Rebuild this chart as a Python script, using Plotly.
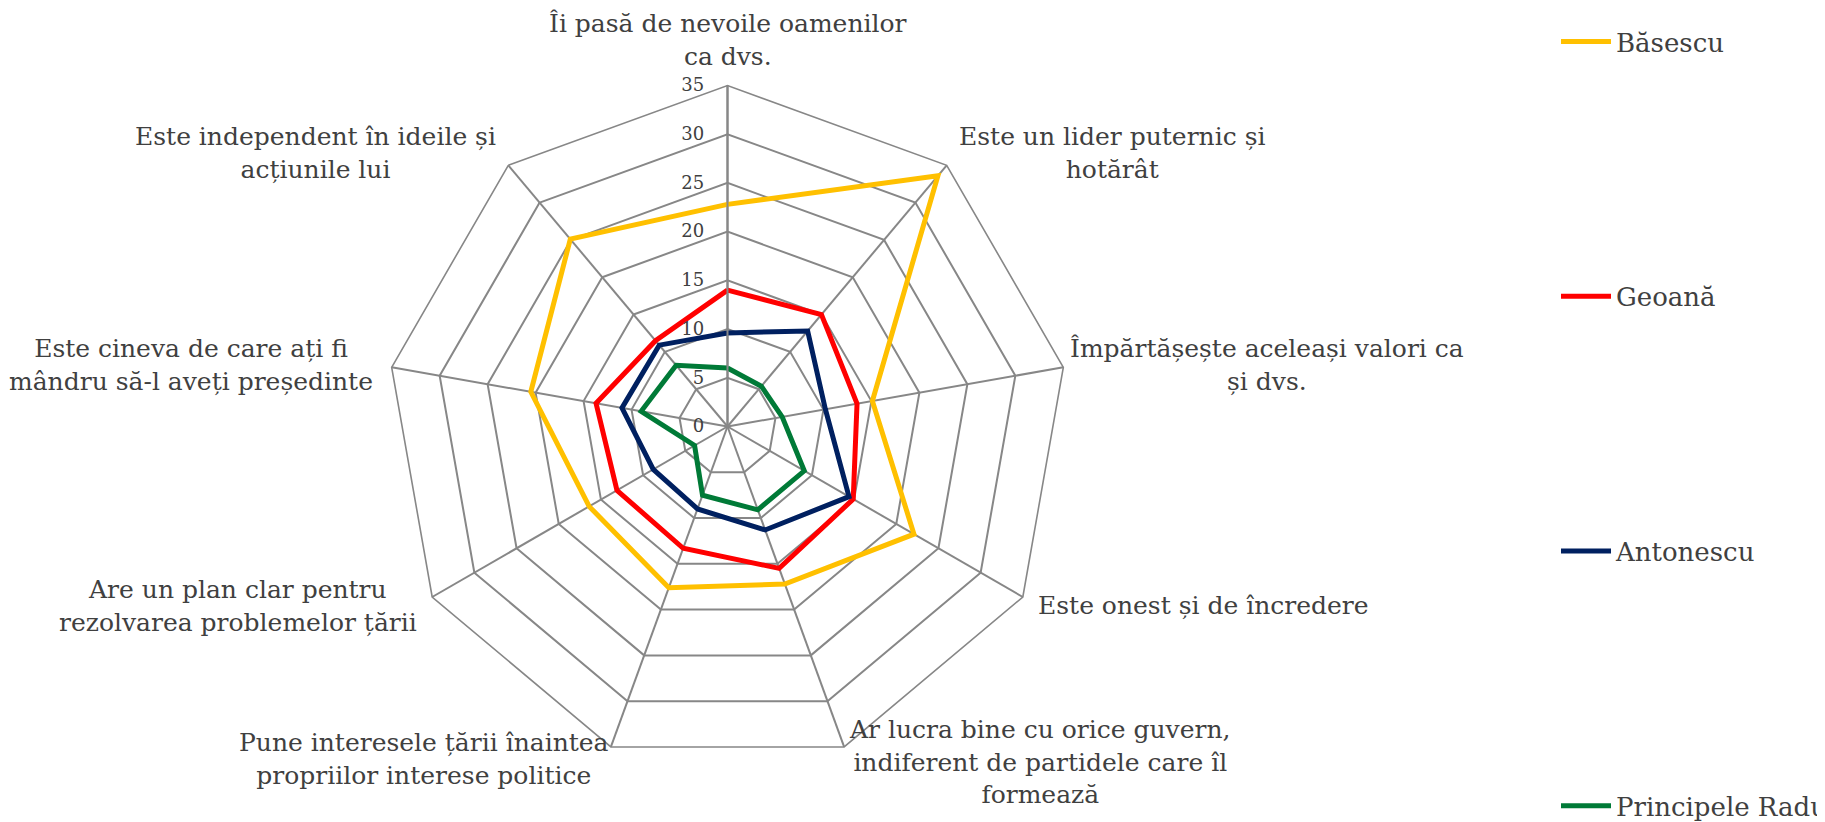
import plotly.graph_objects as go

W, H = 1825, 822

categories = [
    "Îi pasă de nevoile oamenilor<br>ca dvs.",
    "Este un lider puternic și<br>hotărât",
    "Împărtășește aceleași valori ca<br>și dvs.",
    "Este onest și de încredere",
    "Ar lucra bine cu orice guvern,<br>indiferent de partidele care îl<br>formează",
    "Pune interesele țării înaintea<br>propriilor interese politice",
    "Are un plan clar pentru<br>rezolvarea problemelor țării",
    "Este cineva de care ați fi<br>mândru să-l aveți președinte",
    "Este independent în ideile și<br>acțiunile lui",
]

series_names = ["Băsescu", "Geoană", "Antonescu", "Principele Radu"]
basescu = [22.8, 33.6, 15.1, 22.1, 17.2, 17.6, 16.4, 20.5, 25.1]
geoana = [14.0, 15.0, 13.5, 14.9, 15.5, 13.3, 13.1, 13.7, 11.5]
antonescu = [9.6, 12.8, 10.2, 14.4, 11.3, 9.0, 8.8, 11.0, 10.9]
radu = [6.0, 5.4, 5.7, 9.1, 9.1, 7.5, 3.9, 9.0, 8.2]
series_values = [basescu, geoana, antonescu, radu]
series_colors = ["#FFC000", "#FF0000", "#002060", "#007A37"]

radial_ticks = [0, 5, 10, 15, 20, 25, 30, 35]

# page offset (body margin of the html page)
OFF = 8

def px_x(x):
    return (x - OFF) / W

def px_y(y):
    return 1 - (y - OFF) / H

# label placement (pixels in the screenshot): x, y(center), xanchor
label_pos = [
    (728, 40, "center"),
    (957, 153, "left"),
    (1068, 365, "left"),
    (1036, 605, "left"),
    (847, 762, "left"),
    (611, 759, "right"),
    (419, 606, "right"),
    (375, 365, "right"),
    (498, 153, "right"),
]

FONT = "DejaVu Serif"
TXT = "#404040"
GRID = "#878787"

fig = go.Figure()
theta_ids = [str(i) for i in range(len(categories))]
for name, vals, col in zip(series_names, series_values, series_colors):
    fig.add_trace(go.Scatterpolar(
        r=vals + [vals[0]],
        theta=theta_ids + [theta_ids[0]],
        mode="lines",
        name=name,
        legendgroup=name,
        line=dict(color=col, width=5),
    ))

cx, cy, R = 727.5, 426.5, 341
fig.update_layout(
    width=W, height=H, autosize=False,
    margin=dict(l=0, r=0, t=0, b=0),
    paper_bgcolor="white", plot_bgcolor="white",
    font=dict(family=FONT, color=TXT, size=25),
    polar=dict(
        domain=dict(x=[px_x(cx - R), px_x(cx + R)],
                    y=[px_y(cy + R), px_y(cy - R)]),
        bgcolor="white",
        gridshape="linear",
        angularaxis=dict(
            type="category",
            categoryarray=theta_ids,
            rotation=90, direction="clockwise",
            showticklabels=False, ticks="",
            showline=True, linecolor=GRID, linewidth=1.6,
            gridcolor=GRID, gridwidth=1.5,
        ),
        radialaxis=dict(
            range=[0, 35], tickvals=radial_ticks,
            angle=90, side="counterclockwise", tickangle=90,
            showline=True, linecolor=GRID, linewidth=2,
            gridcolor=GRID, gridwidth=1.5,
            ticks="outside", ticklen=16, tickcolor="rgba(0,0,0,0)",
            tickfont=dict(family=FONT, size=18, color=TXT),
        ),
    ),
    legend=dict(
        x=px_x(1556), y=px_y(25), xanchor="left", yanchor="top",
        font=dict(family=FONT, size=26, color=TXT),
        traceorder="grouped", tracegroupgap=218,
        itemwidth=50, bgcolor="rgba(0,0,0,0)",
    ),
    showlegend=True,
)

for text, (px, py, xa) in zip(categories, label_pos):
    fig.add_annotation(
        x=px_x(px), y=px_y(py), xref="paper", yref="paper",
        text=text, showarrow=False, xanchor=xa, yanchor="middle",
        align="center", font=dict(family=FONT, size=25, color=TXT),
    )

fig.write_html("out.html")
